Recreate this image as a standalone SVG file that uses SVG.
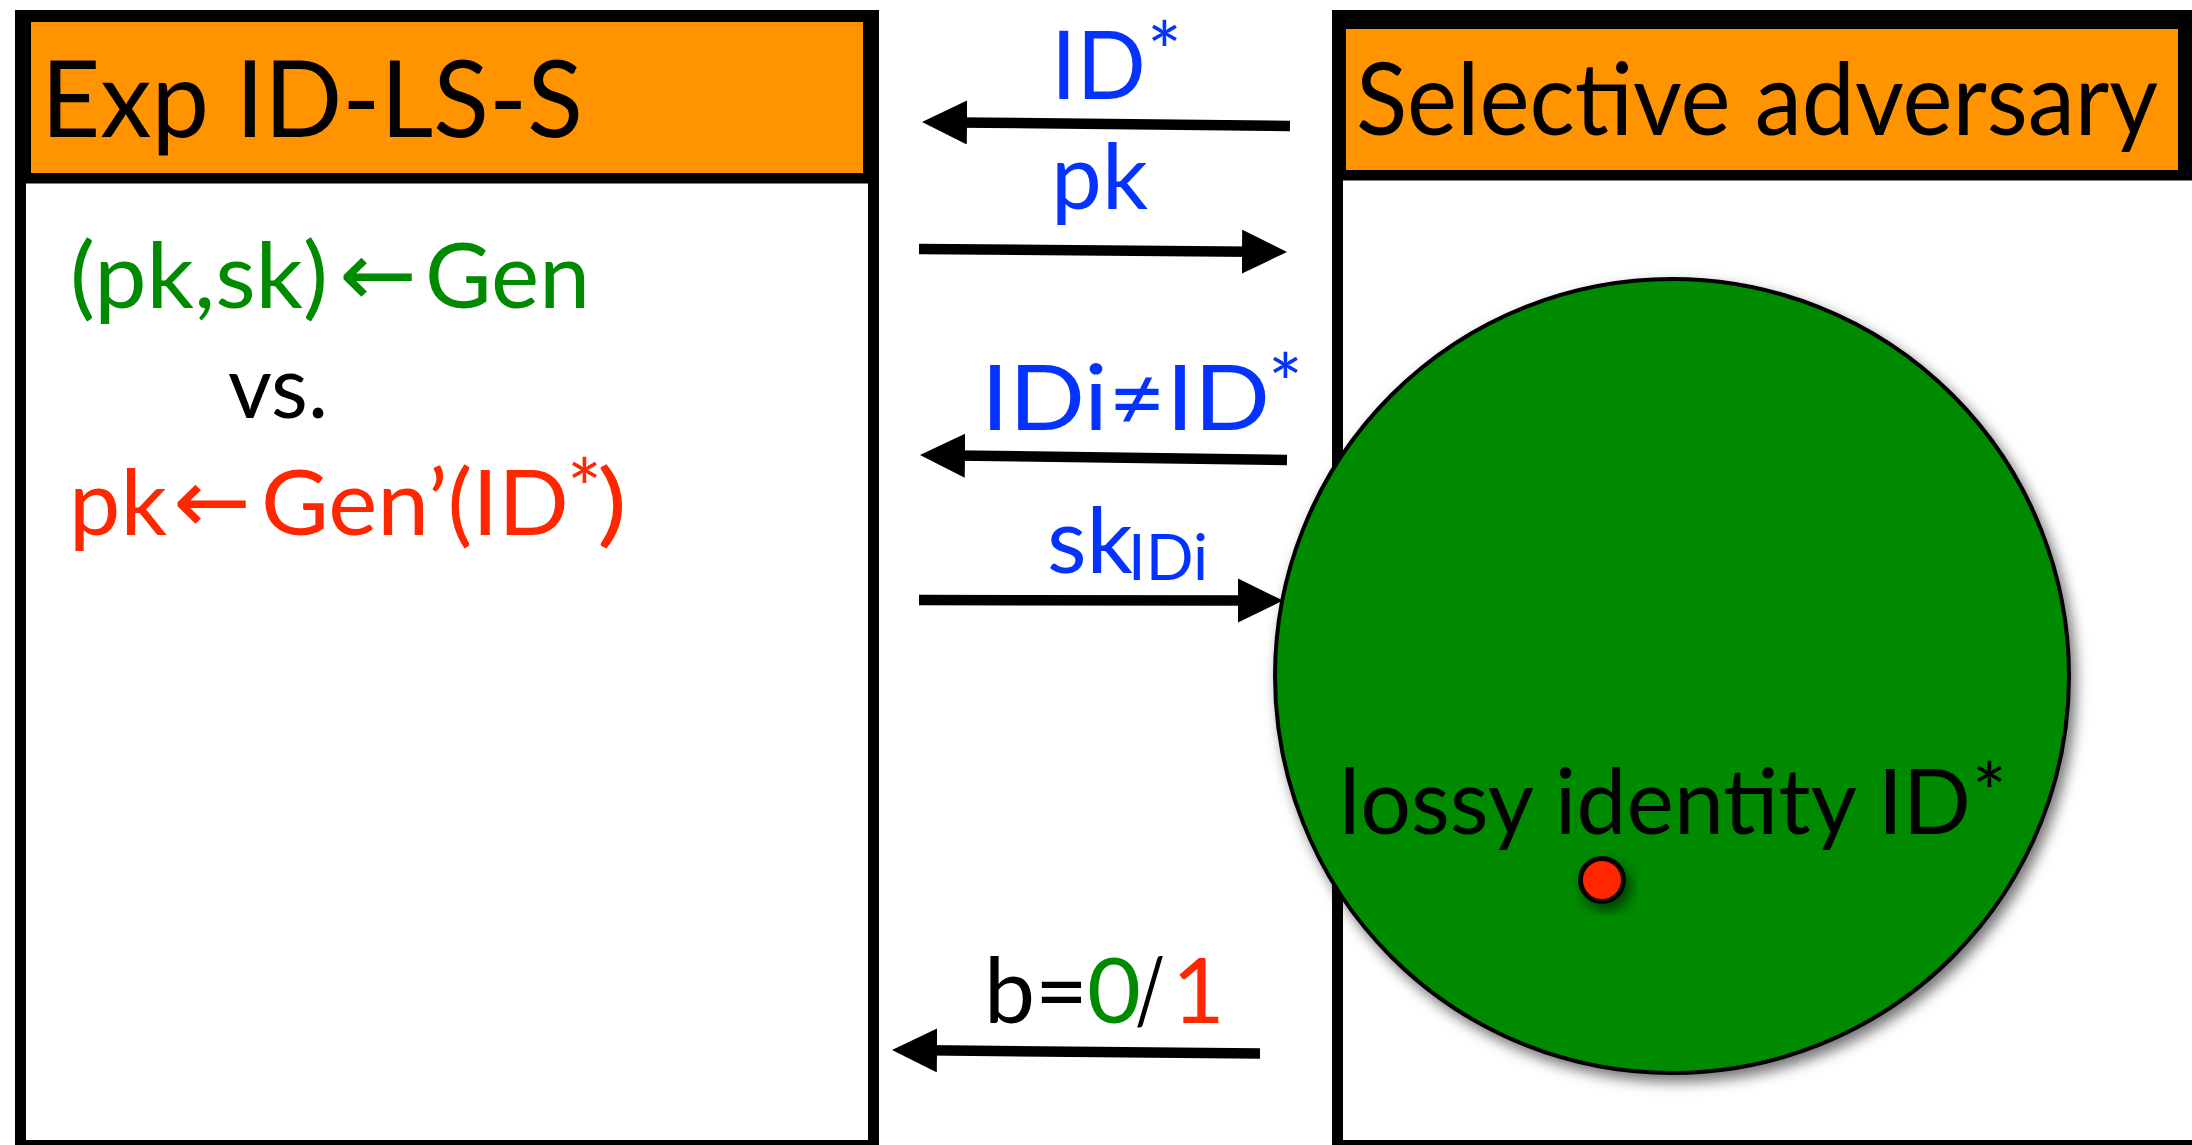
<svg xmlns="http://www.w3.org/2000/svg" width="2192" height="1145" viewBox="0 0 2192 1145">
<style>
  text { font-family: Lato, "Open Sans", "DejaVu Sans", sans-serif; }
  .sym { font-family: "DejaVu Sans", sans-serif; }
  .blue { fill: #0433ff; }
  .green { fill: #008a00; }
  .red { fill: #ff2600; }
  .blk { fill: #000; }
  .frame { fill: #000; }
  .orange { fill: #ff9300; }
  .body { fill: #fff; stroke: #000; stroke-width: 11; }
  .conn { stroke: #000; stroke-width: 10.5; fill: none; marker-end: url(#head); }
  .star { font-size: 82px; }
</style>
<defs>
  <marker id="head" markerUnits="userSpaceOnUse" markerWidth="46" markerHeight="46" refX="10" refY="22" orient="auto">
    <path d="M0,0 L45,22 L0,44 Z" fill="#000"/>
  </marker>
  <filter id="shadow" x="-20%" y="-20%" width="150%" height="150%">
    <feDropShadow dx="5" dy="7" stdDeviation="7" flood-color="#000" flood-opacity="0.55"/>
  </filter>
</defs>
<rect width="2192" height="1145" fill="#fff"/>

<g id="experiment">
  <rect class="body" x="20.5" y="178" width="853" height="967.5"/>
  <rect class="frame" x="15" y="10" width="864" height="173"/>
  <rect class="orange" x="31" y="22" width="832" height="151"/>
  <text class="blk" x="41" y="137" font-size="107" textLength="542" lengthAdjust="spacingAndGlyphs">Exp ID-LS-S</text>
  <text class="green" x="70" y="308" font-size="91" textLength="258" lengthAdjust="spacingAndGlyphs">(pk,sk)</text>
  <text class="green sym" x="339" y="306" font-size="91" textLength="78" lengthAdjust="spacingAndGlyphs">←</text>
  <text class="green" x="425" y="308" font-size="91" textLength="165" lengthAdjust="spacingAndGlyphs">Gen</text>
  <text class="blk" x="228" y="418" font-size="88" textLength="100" lengthAdjust="spacingAndGlyphs">vs.</text>
  <text class="red" x="69" y="535" font-size="91" textLength="98" lengthAdjust="spacingAndGlyphs">pk</text>
  <text class="red sym" x="173" y="533" font-size="91" textLength="78" lengthAdjust="spacingAndGlyphs">←</text>
  <text class="red" x="261" y="535" font-size="91" textLength="308" lengthAdjust="spacingAndGlyphs">Gen’(ID</text>
  <text class="red star" x="567" y="518">*</text>
  <text class="red" x="597" y="535" font-size="91" textLength="30" lengthAdjust="spacingAndGlyphs">)</text>
</g>

<g id="adversary">
  <rect class="body" x="1337.5" y="175" width="860" height="970.5"/>
  <rect class="frame" x="1332" y="10" width="870" height="170"/>
  <rect class="orange" x="1346" y="29" width="832" height="141"/>
  <text class="blk" x="1356" y="135" font-size="100" textLength="802" lengthAdjust="spacingAndGlyphs">Selective adversary</text>
</g>

<g id="lossy-region">
  <circle cx="1672" cy="676" r="397" fill="#008a00" stroke="#000" stroke-width="4" filter="url(#shadow)"/>
  <text class="blk" x="1339" y="834" font-size="92" textLength="632" lengthAdjust="spacingAndGlyphs">lossy identity ID</text>
  <text class="blk star" x="1972" y="822">*</text>
</g>

<g id="target-identity">
  <circle cx="1602" cy="880" r="21.5" fill="#ff2600" stroke="#000" stroke-width="5" filter="url(#shadow)"/>
</g>

<g id="connectors">
  <path class="conn" d="M1290,126 L957,122.4"/>
  <path class="conn" d="M919,249 L1252,251.7"/>
  <path class="conn" d="M1287,460 L955,455.5"/>
  <path class="conn" d="M919,600 L1248,600.5"/>
  <path class="conn" d="M1260,1053.5 L927,1050.3"/>
</g>

<g id="labels">
  <text class="blue" x="1051" y="99" font-size="95" textLength="95" lengthAdjust="spacingAndGlyphs">ID</text>
  <text class="blue star" x="1147" y="81">*</text>
  <text class="blue" x="1051" y="209" font-size="92" textLength="97" lengthAdjust="spacingAndGlyphs">pk</text>
  <text class="blue" x="981" y="430" font-size="92" textLength="289" lengthAdjust="spacingAndGlyphs">IDi≠ID</text>
  <text class="blue star" x="1268" y="413">*</text>
  <text class="blue" x="1047" y="573" font-size="92" textLength="86" lengthAdjust="spacingAndGlyphs">sk</text>
  <text class="blue" x="1128" y="580" font-size="63" textLength="80" lengthAdjust="spacingAndGlyphs">IDi</text>
  <text class="blk" x="984" y="1023" font-size="91" textLength="104" lengthAdjust="spacingAndGlyphs">b=</text>
  <text class="green" x="1087" y="1023" font-size="91" textLength="54" lengthAdjust="spacingAndGlyphs">0</text>
  <text class="blk" x="1135" y="1023" font-size="91" textLength="30" lengthAdjust="spacingAndGlyphs">/</text>
  <text class="red" x="1172" y="1023" font-size="91">1</text>
</g>
</svg>
